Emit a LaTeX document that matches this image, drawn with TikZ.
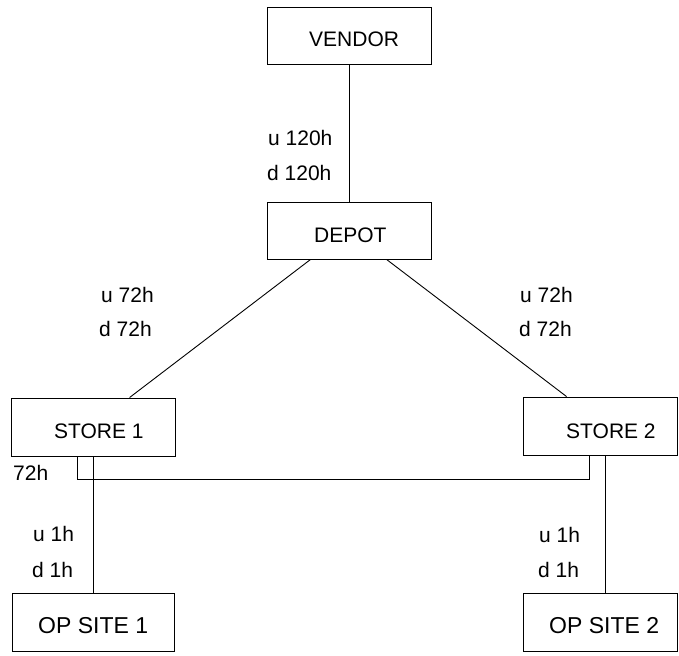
\documentclass[tikz,border=0pt]{standalone}
\usepackage{fontspec}
\setmainfont{Liberation Sans}
\begin{document}
\begin{tikzpicture}[x=1pt, y=-1pt,
  box/.style={draw=black, line width=0.9pt, rectangle, inner sep=0pt},
  boxtext/.style={anchor=base west, inner sep=0pt, font=\fontsize{21}{25}\selectfont},
  sitetext/.style={anchor=base west, inner sep=0pt, font=\fontsize{23}{28}\selectfont},
  lbl/.style={anchor=base west, inner sep=0pt, font=\fontsize{21}{25}\selectfont},
  link/.style={draw=black, line width=0.9pt}]
\useasboundingbox (0,0) rectangle (679,655);

% boxes
\node[box, minimum width=164pt, minimum height=57pt] (vendor) at (349,35.5) {};
\node[box, minimum width=164pt, minimum height=57pt] (depot) at (349,230.5) {};
\node[box, minimum width=164pt, minimum height=58pt] (store1) at (93,427) {};
\node[box, minimum width=154pt, minimum height=58pt] (store2) at (600,426) {};
\node[box, minimum width=162pt, minimum height=58pt] (op1) at (93,622) {};
\node[box, minimum width=154pt, minimum height=58pt] (op2) at (600,622) {};

% box captions
\node[boxtext] (vendortxt) at (309,46.7) {VENDOR};
\node[boxtext] (depottxt) at (314,242.5) {DEPOT};
\node[boxtext] (store1txt) at (54,438.5) {STORE 1};
\node[boxtext] (store2txt) at (566,438.5) {STORE 2};
\node[sitetext] (op1txt) at (38,633) {OP SITE 1};
\node[sitetext] (op2txt) at (549,633) {OP SITE 2};

% connectors
\draw[link] (vendor.south) -- (depot.north);
\draw[link] ([xshift=44pt]depot.south west) -- ([xshift=119pt]store1.north west);
\draw[link] ([xshift=120pt]depot.south west) -- ([xshift=44pt]store2.north west);
\draw[link] (store1.south) -- (op1.north);
\draw[link] ([xshift=5pt]store2.south) -- ([xshift=5pt]op2.north);
\draw[link] ([xshift=-16pt]store1.south) -- ++(0,23) -| ([xshift=-11pt]store2.south);

% lead times
\node[lbl] (u120) at (268,145.7) {u 120h};
\node[lbl] (d120) at (267,180.7) {d 120h};
\node[lbl] (u72a) at (101,302) {u 72h};
\node[lbl] (d72a) at (99,336.7) {d 72h};
\node[lbl] (u72b) at (520,302) {u 72h};
\node[lbl] (d72b) at (519,336.7) {d 72h};
\node[lbl] (t72) at (13,480.7) {72h};
\node[lbl] (u1a) at (33,541.7) {u 1h};
\node[lbl] (d1a) at (32,577) {d 1h};
\node[lbl] (u1b) at (539,542.5) {u 1h};
\node[lbl] (d1b) at (538,577) {d 1h};
\end{tikzpicture}
\end{document}
